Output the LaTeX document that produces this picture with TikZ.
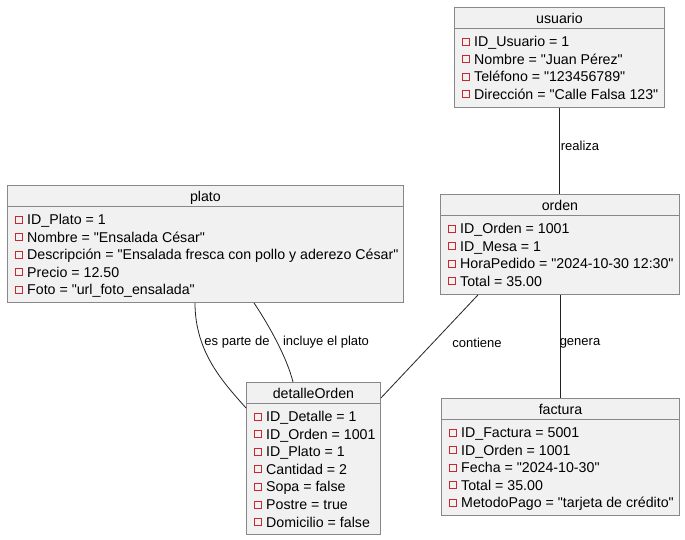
\documentclass[tikz,border=0pt]{standalone}
\usepackage{fontspec}
\newfontfamily\umlfont{Liberation Sans}
\usetikzlibrary{positioning}

\definecolor{boxfill}{HTML}{F1F1F1}
\definecolor{boxline}{HTML}{888888}
\definecolor{attrred}{HTML}{C82930}
\definecolor{linkline}{HTML}{222222}

\tikzset{
  objbox/.style={draw=boxline, fill=boxfill, line width=0.9pt, inner sep=0pt, anchor=north west},
  objtitle/.style={font=\umlfont\fontsize{14.2}{16}\selectfont, inner sep=0pt, anchor=base},
  attr/.style={font=\umlfont\fontsize{14.2}{16}\selectfont, inner sep=0pt, anchor=base west},
  attrmark/.style={draw=attrred, line width=0.8pt, minimum size=7pt, inner sep=0pt},
  linklabel/.style={font=\umlfont\fontsize{13}{15}\selectfont, inner sep=0pt},
  link/.style={draw=linkline, line width=0.8pt}
}

% title row and divider of an object box
\newcommand{\objhead}[2]{
  \draw[boxline, line width=0.9pt] ([yshift=-21pt]#1.north west) -- ([yshift=-21pt]#1.north east);
  \node[objtitle] (#1-t) at ([yshift=-16.5pt]#1.north) {#2};
}
% attribute rows of an object box
\newcommand{\objrows}[2]{
  \foreach \txt [count=\i] in {#2} {
    \node[attrmark] (#1-m\i) at ([xshift=11.5pt, yshift={-34.5-17.6*(\i-1)}]#1.north west) {};
    \node[attr] (#1-a\i) at ([xshift=20pt, yshift={-39.5-17.6*(\i-1)}]#1.north west) {\txt};
  }
}

\begin{document}
\begin{tikzpicture}[x=1pt, y=1pt]
\useasboundingbox (0,0) rectangle (685,-539);

%usuario
\node[objbox, minimum width=210pt, minimum height=100pt] (usuario) at (454,-7) {};
\objhead{usuario}{usuario}
\objrows{usuario}{ID\_Usuario = 1, Nombre = "Juan Pérez", Teléfono = "123456789", Dirección = "Calle Falsa 123"}

%plato
\node[objbox, minimum width=396pt, minimum height=117pt] (plato) at (7,-185) {};
\objhead{plato}{plato}
\objrows{plato}{ID\_Plato = 1, Nombre = "Ensalada César", Descripción = "Ensalada fresca con pollo y aderezo César", Precio = 12.50, Foto = "url\_foto\_ensalada"}

%orden
\node[objbox, minimum width=239pt, minimum height=100pt] (orden) at (440,-194) {};
\objhead{orden}{orden}
\objrows{orden}{ID\_Orden = 1001, ID\_Mesa = 1, HoraPedido = "2024-10-30 12:30", Total = 35.00}

%detalleOrden
\node[objbox, minimum width=134pt, minimum height=152pt] (detalleOrden) at (246,-382) {};
\objhead{detalleOrden}{detalleOrden}
\objrows{detalleOrden}{ID\_Detalle = 1, ID\_Orden = 1001, ID\_Plato = 1, Cantidad = 2, Sopa = false, Postre = true, Domicilio = false}

%factura
\node[objbox, minimum width=238pt, minimum height=117pt] (factura) at (441,-398) {};
\objhead{factura}{factura}
\objrows{factura}{ID\_Factura = 5001, ID\_Orden = 1001, Fecha = "2024-10-30", Total = 35.00, MetodoPago = "tarjeta de crédito"}

%links
\draw[link] (usuario.south) -- (usuario.south |- orden.north);
\draw[link] (orden.south) -- (orden.south |- factura.north);
\draw[link] ([xshift=38pt]orden.south west) -- ([yshift=-16pt]detalleOrden.north east);
\draw[link] ([xshift=188pt]plato.south west) .. controls +(0,-50) and +(-22,25) .. ([yshift=-26pt]detalleOrden.north west);
\draw[link] ([xshift=247pt]plato.south west) .. controls +(16,-24) and +(-6,24) .. ([xshift=47pt]detalleOrden.north west);

%labels
\node[linklabel] (l-realiza) at (580,-146) {realiza};
\node[linklabel] (l-genera) at (580,-343) {genera};
\node[linklabel] (l-contiene) at (477,-343) {contiene};
\node[linklabel] (l-esparte) at (237,-342) {es parte de};
\node[linklabel] (l-incluye) at (326,-342) {incluye el plato};

\end{tikzpicture}
\end{document}
